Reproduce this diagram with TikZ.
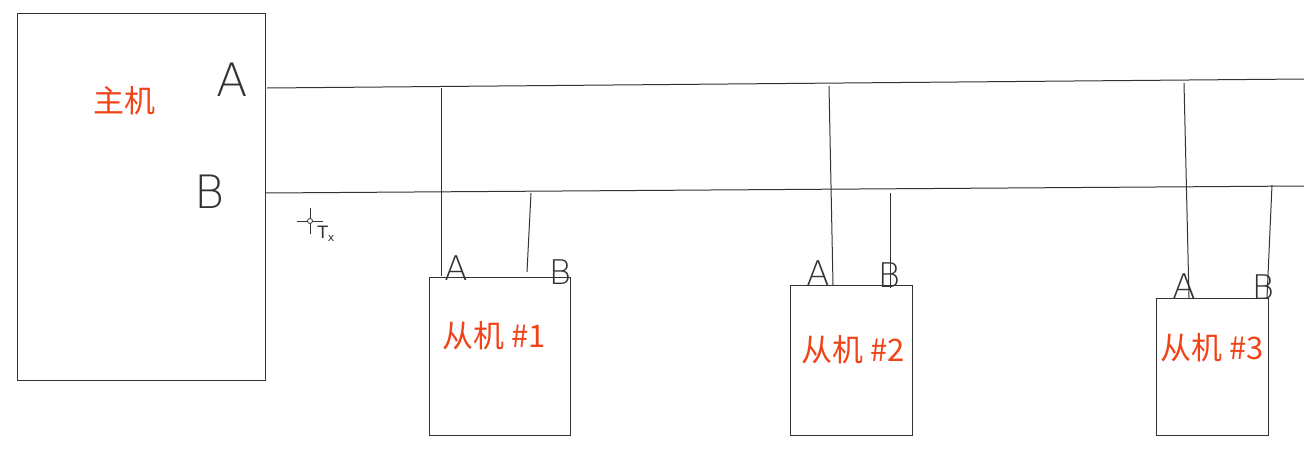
\documentclass[tikz,border=0pt]{standalone}
\usepackage{fontspec}
\usetikzlibrary{calc}
\setmainfont{DejaVu Sans}
\newfontfamily\cjk{Noto Sans CJK SC}
\newfontfamily\thinfont{DejaVu Sans ExtraLight}
\definecolor{lbl}{HTML}{F04418}
\definecolor{ink}{HTML}{333333}
\tikzset{
  box/.style={draw=ink, line width=1pt, inner sep=0pt},
  wire/.style={draw=ink, line width=1pt},
  cn/.style={text=lbl, font=\cjk\fontsize{31}{33}\selectfont, inner sep=0pt},
  bigpin/.style={text=ink, font=\thinfont\fontsize{46}{46}\selectfont, inner sep=0pt},
  pin/.style={text=ink, font=\thinfont\fontsize{34}{34}\selectfont, inner sep=0pt},
}
\begin{document}
\begin{tikzpicture}[x=1pt,y=-1pt]
\useasboundingbox (0,0) rectangle (1304,453);
% master
\node[box, minimum width=248pt, minimum height=367pt, anchor=north west] (M) at (17,13) {};
\node[cn] (mt) at (124,101) {主机};
\node[bigpin] (MA) at (232,80) {A};
\node[bigpin] (MB) at (210,192) {B};
% bus lines
\coordinate (A0) at (267,88);
\coordinate (A1) at (1304,79);
\coordinate (B0) at (265,193);
\coordinate (B1) at (1304,186);
\draw[wire] (A0) -- (A1);
\draw[wire] (B0) -- (B1);
% slaves
\node[box, minimum width=141pt, minimum height=158pt, anchor=north west] (S1) at (429,277) {};
\node[box, minimum width=122pt, minimum height=150pt, anchor=north west] (S2) at (790,285) {};
\node[box, minimum width=112pt, minimum height=137pt, anchor=north west] (S3) at (1156,298) {};
\node[cn] (t1) at (494,336) {从机 \#1};
\node[cn] (t2) at (853,350) {从机 \#2};
\node[cn] (t3) at (1212,348) {从机 \#3};
% pin labels
\node[pin] (s1a) at (456,268) {A};
\node[pin] (s1b) at (560,272) {B};
\node[pin] (s2a) at (818,273) {A};
\node[pin] (s2b) at (889,275) {B};
\node[pin] (s3a) at (1184,286) {A};
\node[pin] (s3b) at (1263,287) {B};
% taps on the bus
\coordinate (a1) at (441,88);   \coordinate (a1e) at (441,276);
\coordinate (b1) at (531,193);  \coordinate (b1e) at (527,272);
\coordinate (a2) at (829,86);   \coordinate (a2e) at (833,285);
\coordinate (b2) at (890,193);  \coordinate (b2e) at (890,288);
\coordinate (a3) at (1184,83);  \coordinate (a3e) at (1189,298);
\coordinate (b3) at (1272,185); \coordinate (b3e) at (1267,298);
\draw[wire] (a1) -- (a1e);
\draw[wire] (b1) -- (b1e);
\draw[wire] (a2) -- (a2e);
\draw[wire] (b2) -- (b2e);
\draw[wire] (a3) -- (a3e);
\draw[wire] (b3) -- (b3e);
% cursor
\coordinate (cur) at (310,221);
\draw[ink, line width=0.8pt] ($(cur)+(-13,0)$) -- ($(cur)+(13,0)$) ($(cur)+(0,-13)$) -- ($(cur)+(0,13)$);
\draw[ink, fill=white, line width=0.8pt] (cur) circle (2.5pt);
\node[text=ink, font=\fontsize{17}{17}\selectfont, inner sep=0pt] (tx) at (326,234) {T\raisebox{-3pt}{\fontsize{11}{11}\selectfont x}};
\end{tikzpicture}
\end{document}
